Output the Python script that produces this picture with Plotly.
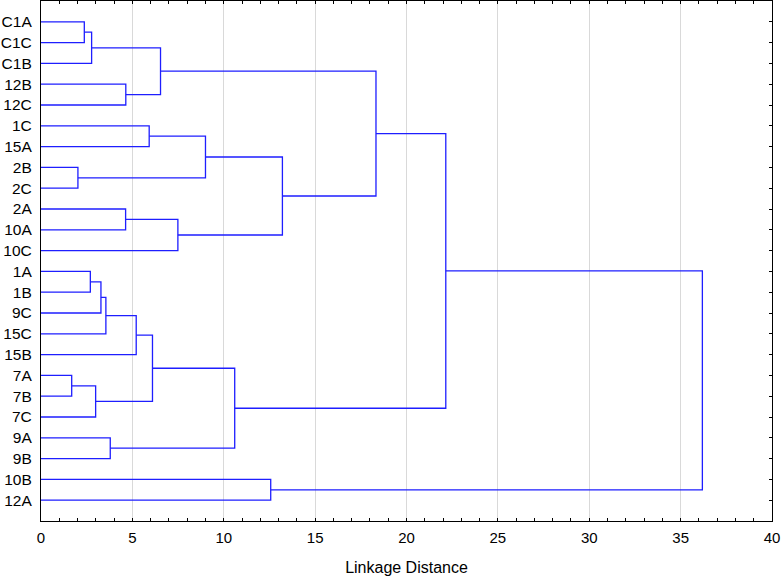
import plotly.graph_objects as go

# leaf labels, top to bottom
leaves = ['C1A', 'C1C', 'C1B', '12B', '12C', '1C', '15A', '2B', '2C', '2A',
          '10A', '10C', '1A', '1B', '9C', '15C', '15B', '7A', '7B', '7C',
          '9A', '9B', '10B', '12A']

# merges: children are leaf names or 'm<index>' of an earlier merge
merge_left = ['C1A', 'm0', '12B', 'm1', '1C', '2B', 'm4', '2A', 'm7', 'm6', 'm3',
              '1A', 'm11', 'm12', 'm13', '7A', 'm15', 'm14', '9A', 'm17', 'm10',
              '10B', 'm20']
merge_right = ['C1C', 'C1B', '12C', 'm2', '15A', '2C', 'm5', '10A', '10C', 'm8', 'm9',
               '1B', '9C', '15C', '15B', '7B', '7C', 'm16', '9B', 'm18', 'm19',
               '12A', 'm21']
merge_height = [2.37, 2.77, 4.64, 6.54, 5.92, 2.02, 9.00, 4.63, 7.49, 13.21, 18.33,
                2.70, 3.28, 3.55, 5.21, 1.68, 2.99, 6.10, 3.79, 10.60, 22.15,
                12.57, 36.19]

x_ticks = [0, 5, 10, 15, 20, 25, 30, 35, 40]

LINE = 'rgb(30,30,255)'
FONT = 'Liberation Sans, Arial, sans-serif'

# positions of leaves and merged clusters
pos = {name: i + 1 for i, name in enumerate(leaves)}
dist = {name: 0.0 for name in leaves}

xs, ys = [], []
for i, (a, b, h) in enumerate(zip(merge_left, merge_right, merge_height)):
    xs += [dist[a], h, h, dist[b], None]
    ys += [pos[a], pos[a], pos[b], pos[b], None]
    pos['m%d' % i] = (pos[a] + pos[b]) / 2
    dist['m%d' % i] = h

fig = go.Figure()
fig.add_trace(go.Scatter(x=xs, y=ys, mode='lines',
                         line=dict(color=LINE, width=1.3),
                         hoverinfo='skip', showlegend=False))
# invisible trace to activate the right-hand axis
fig.add_trace(go.Scatter(x=[0], y=[1], yaxis='y2', mode='markers',
                         marker=dict(opacity=0), showlegend=False, hoverinfo='skip'))

fig.update_layout(
    width=782, height=577,
    margin=dict(l=41, r=10, t=1, b=56),
    plot_bgcolor='white', paper_bgcolor='white',
    font=dict(family=FONT, size=15.5, color='black'),
    xaxis=dict(range=[0, 40], tickvals=x_ticks, ticks='inside', ticklen=3,
               tickcolor='black', showgrid=True, gridcolor='#d9d9d9', gridwidth=1,
               minor=dict(dtick=1, ticks='inside', ticklen=3, tickcolor='black',
                          showgrid=False),
               showline=True, linecolor='black', linewidth=1.3, mirror='ticks',
               zeroline=False, automargin=False, tickfont=dict(size=15),
               ticklabelstandoff=3,
               title=dict(text='Linkage Distance', standoff=16, font=dict(size=16))),
    yaxis=dict(range=[25, 0], tickvals=list(range(1, len(leaves) + 1)),
               ticktext=leaves, ticks='', showgrid=False, zeroline=False,
               showline=True, linecolor='black', linewidth=1.3, mirror=True,
               ticklabelstandoff=5, automargin=False),
    yaxis2=dict(range=[25, 0], overlaying='y', side='right',
                tickvals=list(range(1, len(leaves) + 1)), showticklabels=False,
                ticks='inside', ticklen=3, tickcolor='black',
                showgrid=False, zeroline=False, showline=False, automargin=False),
)

# drop the default page margin so the figure sits at the window's corner
fig.write_html('out.html', config={'displayModeBar': False},
               post_script="document.body.style.margin='0';")
